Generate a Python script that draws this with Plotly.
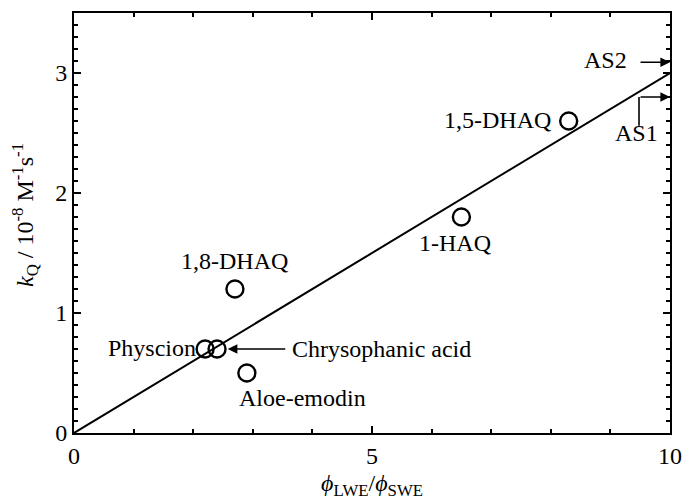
import plotly.graph_objects as go

# Data
compounds = ["Physcion", "Chrysophanic acid", "Aloe-emodin", "1,8-DHAQ", "1-HAQ", "1,5-DHAQ"]
phi_ratio = [2.2, 2.4, 2.9, 2.7, 6.5, 8.3]
kq = [0.7, 0.7, 0.5, 1.2, 1.8, 2.6]
fit_x = [0, 10]
fit_y = [0, 3]
as2_y = 3.09
as1_y = 2.8

FONT = "Liberation Serif"
FS = 24

fig = go.Figure()
fig.add_trace(go.Scatter(x=fit_x, y=fit_y, mode="lines",
                         line=dict(color="black", width=2), showlegend=False, hoverinfo="skip"))
fig.add_trace(go.Scatter(x=phi_ratio, y=kq, mode="markers",
                         marker=dict(symbol="circle-open", size=17, color="black",
                                     line=dict(width=2.4, color="black")),
                         text=compounds, showlegend=False))

labels = [
    ("1,5-DHAQ", 7.1, 2.61, "center"),
    ("1-HAQ", 6.39, 1.58, "center"),
    ("1,8-DHAQ", 2.7, 1.43, "center"),
    ("Physcion", 1.31, 0.71, "center"),
    ("Aloe-emodin", 3.83, 0.29, "center"),
    ("AS2", 8.92, 3.11, "center"),
    ("AS1", 9.43, 2.5, "center"),
]
for t, x, y, al in labels:
    fig.add_annotation(x=x, y=y, text=t, showarrow=False, xanchor=al,
                       font=dict(family=FONT, size=FS, color="black"))

fig.add_annotation(x=3.62, y=0.7, text="Chrysophanic acid", showarrow=False, xanchor="left",
                   font=dict(family=FONT, size=FS, color="black"))
# arrow to chrysophanic acid
fig.add_annotation(x=2.58, y=0.7, ax=3.57, ay=0.7, axref="x", ayref="y", xref="x", yref="y",
                   text="", showarrow=True, arrowhead=2, arrowsize=1.2, arrowwidth=1.6, arrowcolor="black")
# AS2 arrow
fig.add_annotation(x=10, y=as2_y, ax=9.48, ay=as2_y, axref="x", ayref="y",
                   text="", showarrow=True, arrowhead=2, arrowsize=1.2, arrowwidth=1.6, arrowcolor="black")
# AS1 arrow
fig.add_annotation(x=10, y=as1_y, ax=9.48, ay=as1_y, axref="x", ayref="y",
                   text="", showarrow=True, arrowhead=2, arrowsize=1.2, arrowwidth=1.6, arrowcolor="black")
fig.add_shape(type="line", x0=9.48, x1=9.48, y0=as1_y - 0.24, y1=as1_y,
              line=dict(color="black", width=1.6))

# y-axis title
fig.add_annotation(xref="paper", yref="paper", x=0, y=0.5, xshift=-49, yshift=8,
                   textangle=-90, showarrow=False, xanchor="center", yanchor="middle",
                   text="<i>k</i><sub>Q</sub> / 10<sup>-8</sup> M<sup>-1</sup>s<sup>-1</sup>",
                   font=dict(family=FONT, size=FS, color="black"))

axis_common = dict(showgrid=False, zeroline=False, showline=True, linecolor="black", linewidth=2,
                   mirror="ticks", ticks="inside", tickcolor="black", tickwidth=1.5, ticklen=7,
                   automargin=False,
                   tickfont=dict(family=FONT, size=FS, color="black"))
fig.update_xaxes(range=[0, 10], dtick=5, tick0=0,
                 minor=dict(dtick=1, ticks="inside", ticklen=4, tickcolor="black", tickwidth=1.5),
                 title=dict(text="<i>ϕ</i><sub>LWE</sub>/<i>ϕ</i><sub>SWE</sub>",
                            font=dict(family=FONT, size=FS, color="black"), standoff=6),
                 **axis_common)
fig.update_yaxes(range=[0, 3.5], dtick=1, tick0=0,
                 minor=dict(dtick=0.1, ticks="inside", ticklen=4, tickcolor="black", tickwidth=1.5),
                 **axis_common)

fig.update_layout(width=684, height=500, margin=dict(l=74, r=14, t=13, b=67),
                  plot_bgcolor="white", paper_bgcolor="white",
                  font=dict(family=FONT, size=FS, color="black"))

fig.write_html("out.html")
